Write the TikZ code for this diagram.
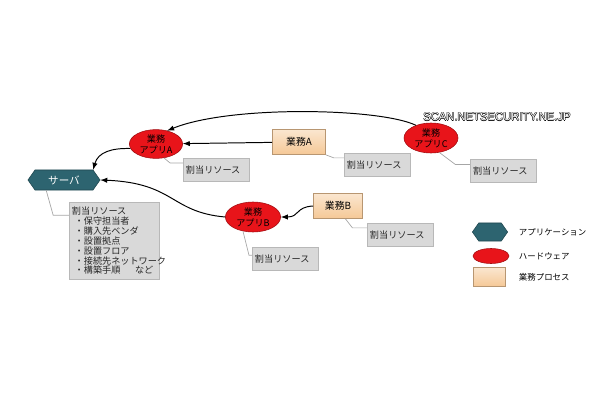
\documentclass[tikz,border=0pt]{standalone}
\usepackage{fontspec}
\setmainfont{Noto Sans CJK JP}
\newfontfamily\wmfont{Liberation Sans}
\usetikzlibrary{shapes.geometric,shapes.symbols}

\definecolor{apteal}{HTML}{2D6470}
\definecolor{hwred}{HTML}{E8141A}
\definecolor{bizpeach}{HTML}{F5C896}
\definecolor{resgray}{HTML}{D9D9D9}
\definecolor{resline}{HTML}{A6A6A6}

% outlined watermark text
\newcommand\wmark[1]{\rlap{\kern-.35pt#1}\rlap{\kern.35pt#1}\rlap{\raisebox{.35pt}{#1}}\rlap{\raisebox{-.35pt}{#1}}\textcolor{white}{#1}}

\begin{document}
\begin{tikzpicture}[x=0.025cm, y=-0.025cm,
  app/.style={signal, signal to=east and west, signal pointer angle=110, fill=apteal, draw=apteal!70!black, text=white, inner sep=0pt},
  hw/.style={ellipse, fill=hwred, draw=hwred!70!black, inner sep=-3pt, align=center, font=\fontsize{6.5}{8}\selectfont},
  biz/.style={rectangle, top color=bizpeach!45, bottom color=bizpeach, draw=bizpeach!75!black, inner sep=0pt, font=\fontsize{7}{8}\selectfont},
  res/.style={rectangle, fill=resgray, draw=resline!80, text=black!85, align=left, inner sep=2pt, text width=1.5cm, minimum height=0.575cm, font=\fontsize{6.5}{7}\selectfont},
  link/.style={draw=resline, line width=0.5pt},
  flow/.style={-latex, line width=0.7pt}]
\useasboundingbox (0,0) rectangle (610,400);

\node (server) [app, minimum width=1.8cm, minimum height=0.5cm, font=\fontsize{7.5}{8}\selectfont] at (64,180) {サーバ};
\node (resS) [res, text width=2.1cm, minimum height=1.93cm] at (114,241) {割当リソース\\
\hspace*{0.3em}・保守担当者\\
\hspace*{0.3em}・購入先ベンダ\\
\hspace*{0.3em}・設置拠点\\
\hspace*{0.3em}・設置フロア\\
\hspace*{0.3em}・接続先ネットワーク\\
\mbox{\hspace*{0.3em}・構築手順\hspace{1.6em}など}};

\node (appA) [hw, minimum width=1.33cm, minimum height=0.72cm] at (156,144) {業務\\アプリA};
\node (appB) [hw, minimum width=1.38cm, minimum height=0.75cm] at (253,217) {業務\\アプリB};
\node (appC) [hw, minimum width=1.35cm, minimum height=0.75cm] at (431,138) {業務\\アプリC};

\node (taskA) [biz, minimum width=1.33cm, minimum height=0.63cm] at (299,142) {業務A};
\node (taskB) [biz, minimum width=1.23cm, minimum height=0.63cm] at (338,206) {業務B};

\node (resA) [res] at (216,170) {割当リソース};
\node (resTA) [res] at (377,165) {割当リソース};
\node (resC) [res] at (503,171) {割当リソース};
\node (resB) [res] at (285,259) {割当リソース};
\node (resTB) [res] at (400,235) {割当リソース};

\node (wm) [font=\wmfont\fontsize{8}{9}\selectfont] at (497,117) {\wmark{SCAN.NETSECURITY.NE.JP}};

% legend
\node (lgApp) [app, minimum width=0.88cm, minimum height=0.45cm] at (490,232) {};
\node (lgHw) [hw, minimum width=0.9cm, minimum height=0.375cm] at (491,256) {};
\node (lgBiz) [biz, minimum width=0.8cm, minimum height=0.475cm] at (489,277) {};
\node (lgAppT) [anchor=west, font=\fontsize{6}{7}\selectfont] at (514,232) {アプリケーション};
\node (lgHwT) [anchor=west, font=\fontsize{6}{7}\selectfont] at (514,256) {ハードウェア};
\node (lgBizT) [anchor=west, font=\fontsize{6}{7}\selectfont] at (514,277) {業務プロセス};

% resource links
\draw[link] (server.210) -- ++(7,25) coordinate (ks) -- (ks -| resS.west);
\draw[link] (appA.-60) -- ++(6,5) coordinate (ka) -- (ka -| resA.west);
\draw[link] (taskA.south east) -- ++(8,3) coordinate (kta) -- (kta -| resTA.west);
\draw[link] (appC.-60) -- ++(16,12) coordinate (kc) -- (kc -| resC.west);
\draw[link] (appB.235) -- ++(6,24) coordinate (kb) -- (kb -| resB.west);
\draw[link] (taskB.-60) -- ++(7,9) coordinate (ktb) -- (ktb -| resTB.west);

% flows
\draw[flow] (appC.140) .. controls (380,108) and (230,105) .. (appA.50);
\draw[flow] (taskA) -- (appA);
\draw[flow] (appA.190) .. controls (112,148) and (98,152) .. (server.north east);
\draw[flow] (appB.west) .. controls (170,212) and (175,183) .. (server.east);
\draw[flow] (taskB.west) .. controls (295,207) and (300,217) .. (appB.east);
\end{tikzpicture}
\end{document}
